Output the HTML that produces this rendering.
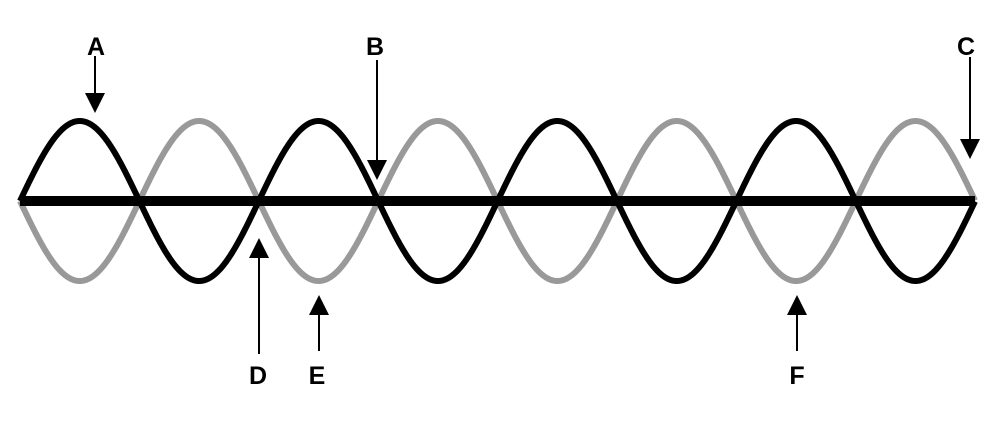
<!DOCTYPE html>
<html><head><meta charset="utf-8"><style>
html,body{margin:0;padding:0;background:#fff;width:1006px;height:421px;overflow:hidden}
text{font-family:"Liberation Sans",Arial,sans-serif;font-weight:bold;font-size:25px;fill:#000;text-anchor:middle}
</style></head><body>
<svg id="s" width="1006" height="421" viewBox="0 0 1006 421" xmlns="http://www.w3.org/2000/svg">
<polyline id="g" fill="none" stroke="#999" stroke-width="6" stroke-linejoin="round"/>
<polyline id="b" fill="none" stroke="#000" stroke-width="6" stroke-linejoin="round"/>
<line x1="20" y1="201" x2="975" y2="201" stroke="#000" stroke-width="10"/>
<g stroke="#000" stroke-width="2">
<line x1="95" y1="56" x2="95" y2="95"/>
<line x1="377" y1="60" x2="377" y2="162"/>
<line x1="970" y1="57" x2="970" y2="140"/>
<line x1="259" y1="256" x2="259" y2="354"/>
<line x1="319" y1="312" x2="319" y2="351"/>
<line x1="797" y1="312" x2="797" y2="351"/>
</g>
<g fill="#000">
<polygon points="85,93 105,93 95,113"/>
<polygon points="367,160 387,160 377,180"/>
<polygon points="960,139 980,139 970,159"/>
<polygon points="249,258 269,258 259,238"/>
<polygon points="309,315 329,315 319,295"/>
<polygon points="787,315 807,315 797,295"/>
</g>
<text x="96" y="55">A</text>
<text x="375" y="55">B</text>
<text x="966" y="55">C</text>
<text x="258" y="384">D</text>
<text x="317" y="384">E</text>
<text x="797" y="384">F</text>
</svg>
<script>
var pb=[],pg=[];
for(var i=0;i<=955;i++){var x=20+i;var y=80*Math.sin(Math.PI*i/119.4);pb.push(x+','+(201-y).toFixed(2));pg.push(x+','+(201+y).toFixed(2));}
document.getElementById('b').setAttribute('points',pb.join(' '));
document.getElementById('g').setAttribute('points',pg.join(' '));
</script>
</body></html>
